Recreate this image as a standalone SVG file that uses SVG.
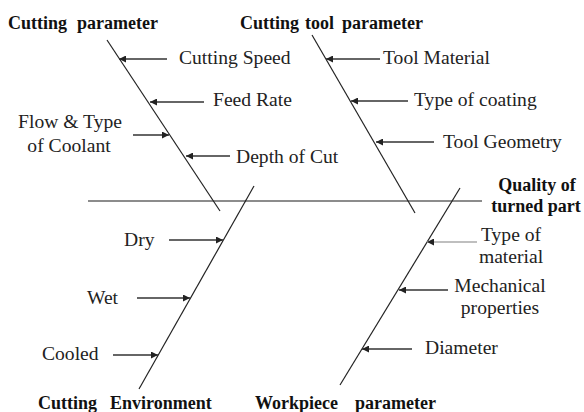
<svg xmlns="http://www.w3.org/2000/svg" width="584" height="412" viewBox="0 0 584 412">
<style>
.t{font-family:"Liberation Serif","Times New Roman",serif;font-size:19.6px;fill:#222}
.h{font-family:"Liberation Serif","Times New Roman",serif;font-size:18px;font-weight:bold;fill:#111}
.bone{stroke:#222;stroke-width:1.2;fill:none}
.spine{stroke:#666;stroke-width:1.6;fill:none}
.arr{stroke:#333;stroke-width:1.4;fill:none;marker-end:url(#ah)}
</style>
<defs>
<marker id="ah" viewBox="0 0 10 10" refX="10" refY="5" markerWidth="7" markerHeight="7" markerUnits="userSpaceOnUse" orient="auto">
<path d="M0,0 L10,5 L0,10 Z" fill="#222"/>
</marker>
</defs>
<g id="connectors">
<line class="spine" x1="88" y1="201" x2="482" y2="201"/>
<line class="bone" x1="107" y1="40" x2="220" y2="211"/>
<line class="bone" x1="312" y1="35" x2="415" y2="213"/>
<line class="bone" x1="254" y1="186" x2="139" y2="389"/>
<line class="bone" x1="460" y1="188" x2="340" y2="385"/>
<line class="arr" x1="167" y1="59" x2="119" y2="59"/>
<line class="arr" x1="204" y1="102" x2="150" y2="102"/>
<line class="arr" x1="133" y1="135" x2="169" y2="135"/>
<line class="arr" x1="230" y1="156" x2="186" y2="156"/>
<line class="arr" x1="380" y1="59" x2="326" y2="59"/>
<line class="arr" x1="408" y1="101" x2="351" y2="101"/>
<line class="arr" x1="434" y1="142" x2="376" y2="142"/>
<line class="arr" x1="169" y1="240" x2="223" y2="240"/>
<line class="arr" x1="137" y1="298" x2="190" y2="298"/>
<line class="arr" x1="113" y1="355" x2="158" y2="355"/>
<line class="arr" x1="477" y1="242" x2="427" y2="242" style="stroke:#aaa"/>
<line class="arr" x1="448" y1="290" x2="399" y2="290"/>
<line class="arr" x1="412" y1="349" x2="362" y2="349"/>
</g>
<g id="cutting-parameter">
<text class="h" y="29"><tspan x="8">Cutting</tspan><tspan x="77">parameter</tspan></text>
<text class="t" x="179" y="64">Cutting Speed</text>
<text class="t" x="213" y="106">Feed Rate</text>
<text class="t" x="70" y="128" text-anchor="middle">Flow &amp; Type</text>
<text class="t" x="69" y="152" text-anchor="middle">of Coolant</text>
<text class="t" x="236" y="163">Depth of Cut</text>
</g>
<g id="cutting-tool-parameter">
<text class="h" y="29"><tspan x="240">Cutting</tspan><tspan x="305">tool</tspan><tspan x="342">parameter</tspan></text>
<text class="t" x="383" y="64">Tool Material</text>
<text class="t" x="414" y="106">Type of coating</text>
<text class="t" x="443" y="148">Tool Geometry</text>
</g>
<g id="quality">
<text class="h" x="537" y="191" text-anchor="middle">Quality of</text>
<text class="h" x="536" y="212" text-anchor="middle">turned part</text>
</g>
<g id="cutting-environment">
<text class="h" y="409"><tspan x="38">Cutting</tspan><tspan x="110">Environment</tspan></text>
<text class="t" x="124" y="246">Dry</text>
<text class="t" x="87" y="304">Wet</text>
<text class="t" x="42" y="360">Cooled</text>
</g>
<g id="workpiece-parameter">
<text class="h" y="409"><tspan x="255">Workpiece</tspan><tspan x="355">parameter</tspan></text>
<text class="t" x="511" y="241" text-anchor="middle">Type of</text>
<text class="t" x="511" y="263" text-anchor="middle">material</text>
<text class="t" x="500" y="292" text-anchor="middle">Mechanical</text>
<text class="t" x="500" y="314" text-anchor="middle">properties</text>
<text class="t" x="425" y="354">Diameter</text>
</g>
</svg>
